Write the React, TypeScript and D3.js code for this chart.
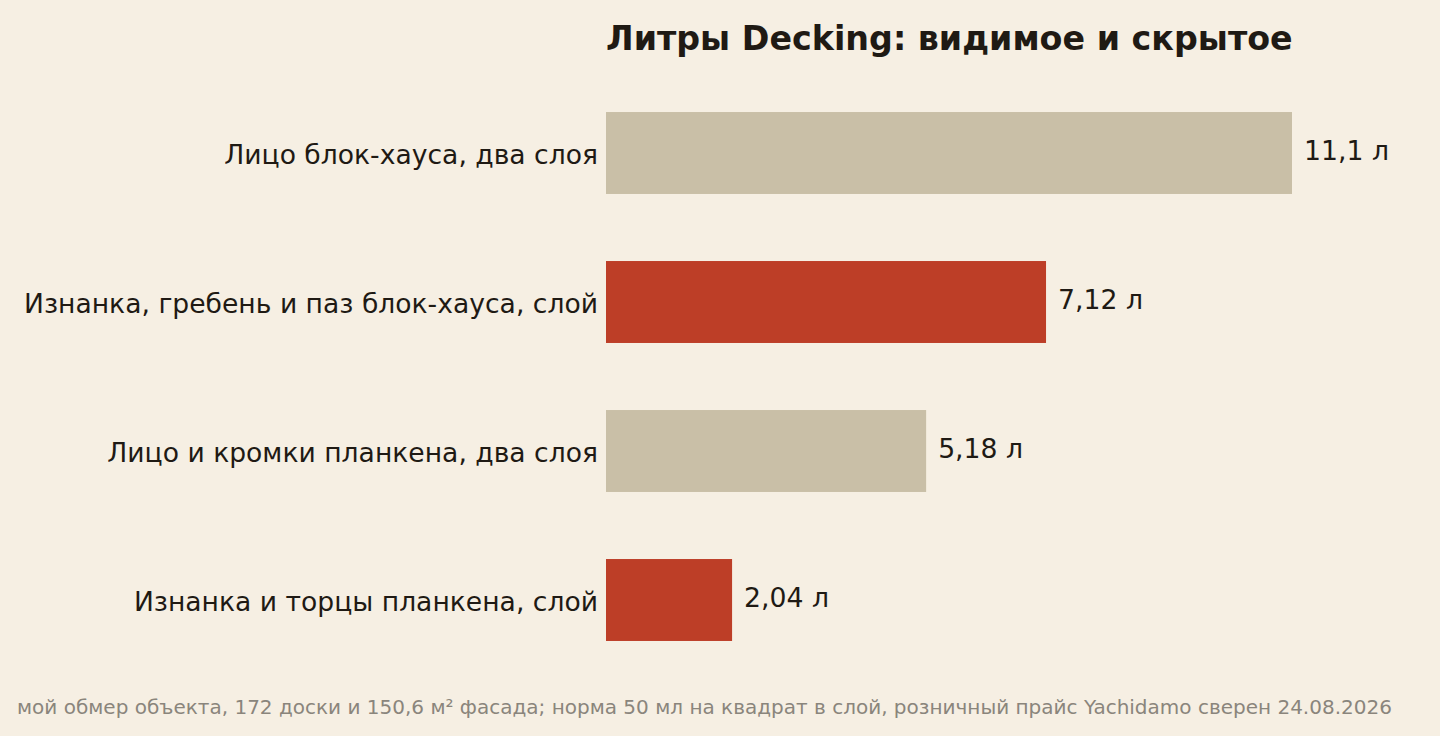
import { useEffect, useRef } from "react";
import * as d3 from "d3";

const categories = [
  "Лицо блок-хауса, два слоя",
  "Изнанка, гребень и паз блок-хауса, слой",
  "Лицо и кромки планкена, два слоя",
  "Изнанка и торцы планкена, слой",
];
const liters = [11.1, 7.12, 5.18, 2.04];
const valueLabels = ["11,1 л", "7,12 л", "5,18 л", "2,04 л"];
const hidden = [false, true, false, true];

const W = 1440;
const H = 736;

export default function App() {
  const svgRef = useRef<SVGSVGElement>(null);

  useEffect(() => {
    const svg = d3.select(svgRef.current);
    svg.selectAll("*").remove();

    svg.append("rect").attr("width", W).attr("height", H).attr("fill", "#f6efe3");

    const x = d3.scaleLinear().domain([0, 11.1]).range([606, 1292]);
    const y = d3
      .scaleBand<number>()
      .domain(d3.range(categories.length))
      .range([78.5, 674.5])
      .paddingInner(0.45)
      .paddingOuter(0.225);

    const font = "'DejaVu Sans', sans-serif";

    svg
      .append("text")
      .attr("x", 606)
      .attr("y", 50)
      .attr("font-family", font)
      .attr("font-weight", "bold")
      .attr("font-size", 33.3)
      .attr("fill", "#1f1a14")
      .text("Литры Decking: видимое и скрытое");

    const g = svg.append("g");

    g.selectAll("rect.bar")
      .data(liters)
      .join("rect")
      .attr("class", "bar")
      .attr("x", x(0))
      .attr("y", (_, i) => y(i)!)
      .attr("width", (d) => x(d) - x(0))
      .attr("height", y.bandwidth())
      .attr("fill", (_, i) => (hidden[i] ? "#bd3e27" : "#c9bfa7"));

    g.selectAll("text.cat")
      .data(categories)
      .join("text")
      .attr("class", "cat")
      .attr("x", x(0) - 8)
      .attr("y", (_, i) => y(i)! + y.bandwidth() / 2 + 2)
      .attr("dy", "0.35em")
      .attr("text-anchor", "end")
      .attr("font-family", font)
      .attr("font-size", 26.6)
      .attr("fill", "#1f1a14")
      .text((d) => d);

    g.selectAll("text.val")
      .data(liters)
      .join("text")
      .attr("class", "val")
      .attr("x", (d) => x(d) + 12)
      .attr("y", (_, i) => y(i)! + y.bandwidth() / 2 - 2)
      .attr("dy", "0.35em")
      .attr("font-family", font)
      .attr("font-size", 26.7)
      .attr("fill", "#1f1a14")
      .text((_, i) => valueLabels[i]);

    svg
      .append("text")
      .attr("x", 17)
      .attr("y", 714)
      .attr("font-family", font)
      .attr("font-size", 20)
      .attr("fill", "#8a857c")
      .text(
        "мой обмер объекта, 172 доски и 150,6 м² фасада; норма 50 мл на квадрат в слой, розничный прайс Yachidamo сверен 24.08.2026"
      );
  }, []);

  return (
    <div style={{ position: "fixed", left: 0, top: 0 }}>
      <svg ref={svgRef} width={W} height={H} style={{ display: "block" }} />
    </div>
  );
}
